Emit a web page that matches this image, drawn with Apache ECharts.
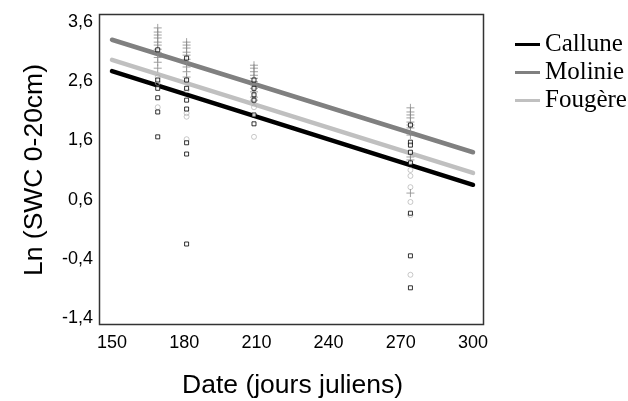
<!DOCTYPE html>
<html>
<head>
<meta charset="utf-8">
<script src="https://cdn.jsdelivr.net/npm/echarts@6/dist/echarts.min.js"></script>
<style>html,body{margin:0;padding:0;background:#fff;}#c{width:628px;height:401px;}</style>
</head>
<body>
<div id="c"></div>
<script>
// Sampling dates (julian days)
var dates = [169, 181, 209, 274];
// Observed Ln(SWC) per date, per vegetation type
var callunePts = [
  [3.13, 2.62, 2.48, 2.32, 2.08, 1.66],
  [2.99, 2.62, 2.48, 2.28, 2.13, 1.56, 1.37, -0.15],
  [2.62, 2.48, 2.37, 2.28, 2.03, 1.88],
  [1.86, 1.57, 1.52, 1.40, 1.22, 0.37, -0.35, -0.89]
];
var moliniePts = [
  [3.50, 3.43, 3.38, 3.33, 3.26, 3.21, 3.14, 3.08, 3.00, 2.92, 2.82],
  [3.26, 3.21, 3.16, 3.09, 3.04, 2.97, 2.91, 2.84, 2.76, 2.67],
  [2.87, 2.82, 2.76, 2.70, 2.65, 2.59, 2.54, 2.48, 2.42, 2.33, 2.28],
  [2.15, 2.08, 2.03, 1.98, 1.91, 1.86, 1.81, 1.74, 1.69, 1.32, 1.27, 0.71]
];
var fougerePts = [
  [2.67, 2.57, 2.16],
  [2.45, 2.06, 2.00, 1.62],
  [2.16, 1.66],
  [1.10, 1.00, 0.81, 0.56, 0.34, -0.67]
];
// Fitted regression lines (start/end)
var lineX = [150, 300];
var calluneLine = [2.77, 0.85];
var molinieLine = [3.30, 1.40];
var fougereLine = [2.96, 1.05];
// Tick labels
var xTicks = [150, 180, 210, 240, 270, 300];
var yTicks = [-1.4, -0.4, 0.6, 1.6, 2.6, 3.6];

function pts(arr) {
  var out = [];
  arr.forEach(function (vals, i) { vals.forEach(function (v) { out.push([dates[i], v]); }); });
  return out;
}
function line(ys) { return lineX.map(function (x, i) { return [x, ys[i]]; }); }

var chart = echarts.init(document.getElementById('c'), null, { renderer: 'canvas' });
var sans = 'Liberation Sans, Arial, sans-serif';
chart.setOption({
  animation: false,
  backgroundColor: '#fff',
  grid: { left: 112, right: 155, top: 22, bottom: 83, containLabel: false, outerBoundsMode: 'none' },
  xAxis: {
    type: 'value', min: xTicks[0], max: xTicks[xTicks.length - 1], interval: 30,
    axisLine: { show: false }, axisTick: { show: false }, splitLine: { show: false },
    axisLabel: { color: '#000', fontSize: 18, fontFamily: sans, margin: 16,
      formatter: function (v) { return xTicks.indexOf(v) >= 0 ? String(v) : ''; } },
    name: 'Date (jours juliens)', nameLocation: 'middle', nameGap: 54,
    nameTextStyle: { color: '#000', fontSize: 26.5, fontFamily: sans }
  },
  yAxis: {
    type: 'value', min: yTicks[0], max: yTicks[yTicks.length - 1], interval: 0.2,
    axisLine: { show: false }, axisTick: { show: false }, splitLine: { show: false },
    axisLabel: { color: '#000', fontSize: 18, fontFamily: sans, margin: 19,
      formatter: function (v) {
        var ok = yTicks.some(function (t) { return Math.abs(t - v) < 1e-6; });
        return ok ? v.toFixed(1).replace('.', ',') : '';
      } },
    name: 'Ln (SWC 0-20cm)', nameLocation: 'middle', nameGap: 64, nameRotate: 90,
    nameTextStyle: { color: '#000', fontSize: 26.5, fontFamily: sans }
  },
  legend: {
    orient: 'vertical', left: 510, top: 27, itemWidth: 25, itemHeight: 3, itemGap: 3,
    icon: 'rect', data: ['Callune', 'Molinie', 'Fougère'],
    textStyle: { color: '#000', fontSize: 25, fontFamily: 'Liberation Serif, Times New Roman, serif' }
  },
  graphic: [{
    type: 'rect', silent: true, z: 100,
    shape: { x: 99.5, y: 14.5, width: 384, height: 310 },
    style: { fill: 'none', stroke: '#333', lineWidth: 1.5 }
  }],
  series: [
    { name: 'Callune', type: 'line', data: line(calluneLine), symbol: 'none', z: 3,
      itemStyle: { color: '#000' }, lineStyle: { color: '#000', width: 4.5, cap: 'round' } },
    { name: 'Molinie', type: 'line', data: line(molinieLine), symbol: 'none', z: 3,
      itemStyle: { color: '#808080' }, lineStyle: { color: '#808080', width: 4.5, cap: 'round' } },
    { name: 'Fougère', type: 'line', data: line(fougereLine), symbol: 'none', z: 3,
      itemStyle: { color: '#c0c0c0' }, lineStyle: { color: '#c0c0c0', width: 4.5, cap: 'round' } },
    { name: 'Fougère obs', type: 'scatter', data: pts(fougerePts), symbol: 'circle', symbolSize: 5, z: 4,
      itemStyle: { color: 'rgba(0,0,0,0)', borderColor: '#aaa', borderWidth: 0.8 } },
    { name: 'Molinie obs', type: 'scatter', data: pts(moliniePts), symbol: 'path://M0,5L10,5M5,0L5,10', symbolSize: 8, z: 4,
      itemStyle: { color: 'rgba(0,0,0,0)', borderColor: '#8a8a8a', borderWidth: 1 } },
    { name: 'Callune obs', type: 'scatter', data: pts(callunePts), symbol: 'rect', symbolSize: 4, z: 5,
      itemStyle: { color: '#fff', borderColor: '#000', borderWidth: 1 } }
  ]
});
</script>
</body>
</html>
